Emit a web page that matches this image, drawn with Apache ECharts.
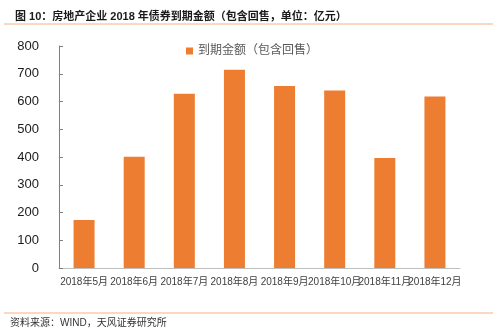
<!DOCTYPE html>
<html>
<head>
<meta charset="utf-8">
<script src="https://cdn.jsdelivr.net/npm/echarts@6/dist/echarts.min.js"></script>
<style>
html,body{margin:0;padding:0;background:#fff;}
#chart{width:500px;height:332px;}
</style>
</head>
<body>
<div id="chart"></div>
<script>
// Monthly maturities of real-estate bonds in 2018 (incl. puts), unit: 100m CNY
const months = ['2018年5月','2018年6月','2018年7月','2018年8月','2018年9月','2018年10月','2018年11月','2018年12月'];
const maturity = [173, 401, 628, 714, 656, 640, 396, 618];
const yTicks = [0, 100, 200, 300, 400, 500, 600, 700, 800];
const seriesName = '到期金额（包含回售）';
const titleText = '图 10：房地产企业 2018 年债券到期金额（包含回售，单位：亿元）';
const sourceText = '资料来源：WIND，天风证券研究所';

const cjk = '"Liberation Sans", Arial, "Noto Sans CJK SC", sans-serif';
const chart = echarts.init(document.getElementById('chart'), null, {renderer: 'canvas'});

chart.setOption({
  backgroundColor: '#ffffff',
  animation: false,
  title: {
    text: titleText,
    left: 10, top: 6,
    textStyle: {fontFamily: cjk, fontSize: 11, fontWeight: 'bold', color: '#1a1a1a'}
  },
  graphic: [
    {type: 'line', shape: {x1: 4, y1: 24, x2: 493, y2: 24}, style: {stroke: '#F4B183', lineWidth: 1}},
    {type: 'line', shape: {x1: 4, y1: 313, x2: 493, y2: 313}, style: {stroke: '#F4B183', lineWidth: 1}},
    {type: 'text', left: 10, top: 318, style: {text: sourceText, font: '10px ' + cjk, fill: '#333'}}
  ],
  legend: {
    data: [seriesName],
    left: 181, top: 40,
    icon: 'rect', itemWidth: 7, itemHeight: 7, itemGap: 4,
    textStyle: {fontFamily: cjk, fontSize: 12, color: '#595959'}
  },
  grid: {left: 59, right: 40, top: 46, bottom: 64, containLabel: false},
  xAxis: {
    type: 'category',
    data: months,
    axisLine: {show: true, lineStyle: {color: '#bfbfbf', width: 1}},
    axisTick: {show: false},
    axisLabel: {fontFamily: cjk, fontSize: 10, color: '#404040', margin: 9, interval: 0}
  },
  yAxis: {
    type: 'value',
    min: yTicks[0], max: yTicks[yTicks.length - 1], interval: 100,
    splitLine: {show: false},
    axisLine: {show: true, lineStyle: {color: '#808080', width: 1}},
    axisTick: {show: true, inside: true, length: 4, lineStyle: {color: '#808080'}},
    axisLabel: {fontFamily: cjk, fontSize: 13, color: '#1a1a1a', margin: 20}
  },
  series: [{
    name: seriesName,
    type: 'bar',
    data: maturity,
    barWidth: 21,
    itemStyle: {color: '#ED7D31'}
  }]
});
</script>
</body>
</html>
